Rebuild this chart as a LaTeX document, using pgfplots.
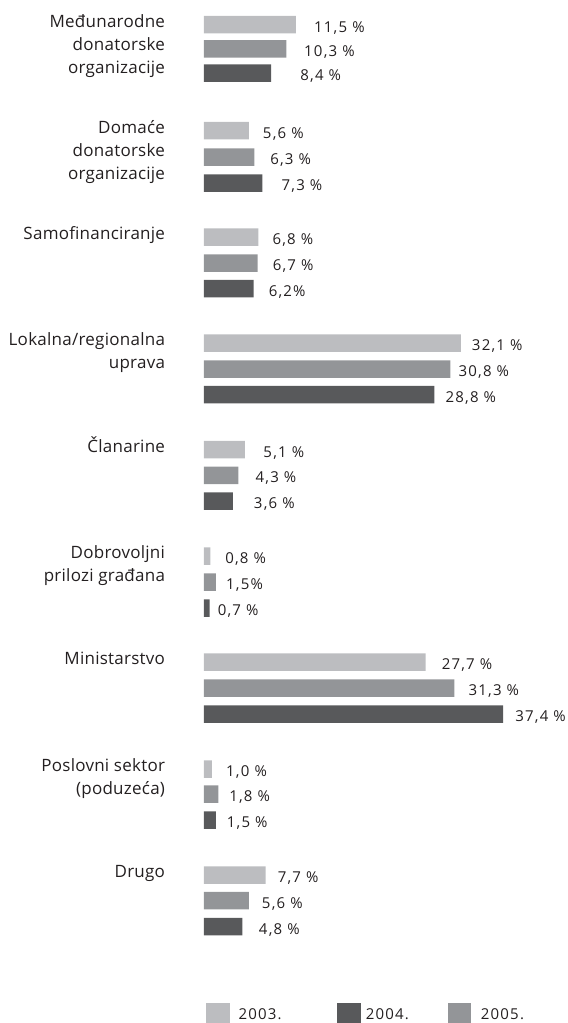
\documentclass[border=0pt]{standalone}
\usepackage{fontspec}
\setmainfont{Open Sans}
\newfontfamily\numfont[LetterSpace=8]{Open Sans}
\newfontfamily\catfont[LetterSpace=1.5]{Open Sans}
\usepackage{pgfplots}
\pgfplotsset{compat=1.18}
\definecolor{cA}{HTML}{BCBDC0}
\definecolor{cB}{HTML}{939598}
\definecolor{cC}{HTML}{58595B}
\definecolor{txt}{HTML}{231F20}
\newcommand{\cat}[1]{\begin{tabular}[t]{@{}r@{}}#1\end{tabular}}
\begin{document}
\begin{tikzpicture}
\begin{axis}[
  scale only axis, width=568pt, height=1023pt,
  xmin=-25.5, xmax=45.5, ymin=0, ymax=1023, y dir=reverse,
  hide axis, clip=false,
  xbar, bar width=17.5pt, bar shift=0pt,
  nodes near coords, point meta=explicit symbolic,
  every node near coord/.append style={anchor=base west, inner sep=0pt,
    yshift=-7.5pt, font=\numfont\fontsize{15}{18}\selectfont, text=txt},
]
% 2003 (light)
\addplot[fill=cA, draw=none] coordinates {
  (11.5,24.7) [\hspace{18pt}11,5 \%]
  (5.6,130.5) [\hspace{14pt}5,6 \%]
  (6.8,237)   [\hspace{14pt}6,8 \%]
  (32.1,343)  [\hspace{11pt}32,1 \%]
  (5.1,449.7) [\hspace{18.5pt}5,1 \%]
  (0.8,556)   [\hspace{14.7pt}0,8 \%]
  (27.7,662)  [\hspace{16pt}27,7 \%]
  (1.0,769)   [\hspace{14pt}1,0 \%]
  (7.7,875)   [\hspace{12pt}7,7 \%]
};
% 2005 (mid)
\addplot[fill=cB, draw=none] coordinates {
  (10.3,48.8) [\hspace{17.6pt}10,3 \%]
  (6.3,157)   [\hspace{15.7pt}6,3 \%]
  (6.7,263)   [\hspace{15pt}6,7 \%]
  (30.8,369)  [\hspace{8pt}30,8 \%]
  (4.3,475.3) [\hspace{17pt}4,3 \%]
  (1.5,582)   [\hspace{10pt}1,5\%]
  (31.3,688)  [\hspace{14pt}31,3 \%]
  (1.8,794)   [\hspace{10.7pt}1,8 \%]
  (5.6,900.5) [\hspace{13pt}5,6 \%]
};
% 2004 (dark)
\addplot[fill=cC, draw=none] coordinates {
  (8.4,73)    [\hspace{29pt}8,4 \%]
  (7.3,183)   [\hspace{19pt}7,3 \%]
  (6.2,288.7) [\hspace{15pt}6,2\%]
  (28.8,394.5)[\hspace{11pt}28,8 \%]
  (3.6,501.2) [\hspace{21pt}3,6 \%]
  (0.7,608)   [\hspace{8pt}0,7 \%]
  (37.4,714)  [\hspace{12pt}37,4 \%]
  (1.5,820)   [\hspace{10.7pt}1,5 \%]
  (4.8,926.5) [\hspace{16.4pt}4,8 \%]
};
\path (rel axis cs:0,0) rectangle (rel axis cs:1,1);
\begin{scope}[every node/.style={anchor=base east, inner sep=0pt, text=txt,
    font=\catfont\fontsize{17}{23.3}\selectfont}]
\node at (axis cs:-4.85,27.2)  {\cat{Međunarodne\\donatorske\\organizacije}};
\node at (axis cs:-4.85,133)   {\cat{Domaće\\donatorske\\organizacije}};
\node at (axis cs:-4.85,239.5) {\cat{Samofinanciranje}};
\node at (axis cs:-4.85,345.5) {\cat{Lokalna/regionalna\\uprava}};
\node at (axis cs:-4.85,452.2) {\cat{Članarine}};
\node at (axis cs:-4.85,558.5) {\cat{Dobrovoljni\\prilozi građana}};
\node at (axis cs:-4.85,664.5) {\cat{Ministarstvo}};
\node at (axis cs:-4.85,771.5) {\cat{Poslovni sektor\\(poduzeća)}};
\node at (axis cs:-4.85,877.5) {\cat{Drugo}};
\end{scope}
% legend
\fill[cA] (axis cs:0.25,1003) rectangle (axis cs:3.19,1023);
\fill[cC] (axis cs:16.66,1003) rectangle (axis cs:19.59,1023);
\fill[cB] (axis cs:30.46,1003) rectangle (axis cs:33.34,1023);
\begin{scope}[every node/.style={anchor=base west, inner sep=0pt, text=txt,
    font=\numfont\fontsize{15}{18}\selectfont}]
\node at (axis cs:4.29,1019)  {2003.};
\node at (axis cs:20.21,1019) {2004.};
\node at (axis cs:34.59,1019) {2005.};
\end{scope}
\end{axis}
\end{tikzpicture}
\end{document}
